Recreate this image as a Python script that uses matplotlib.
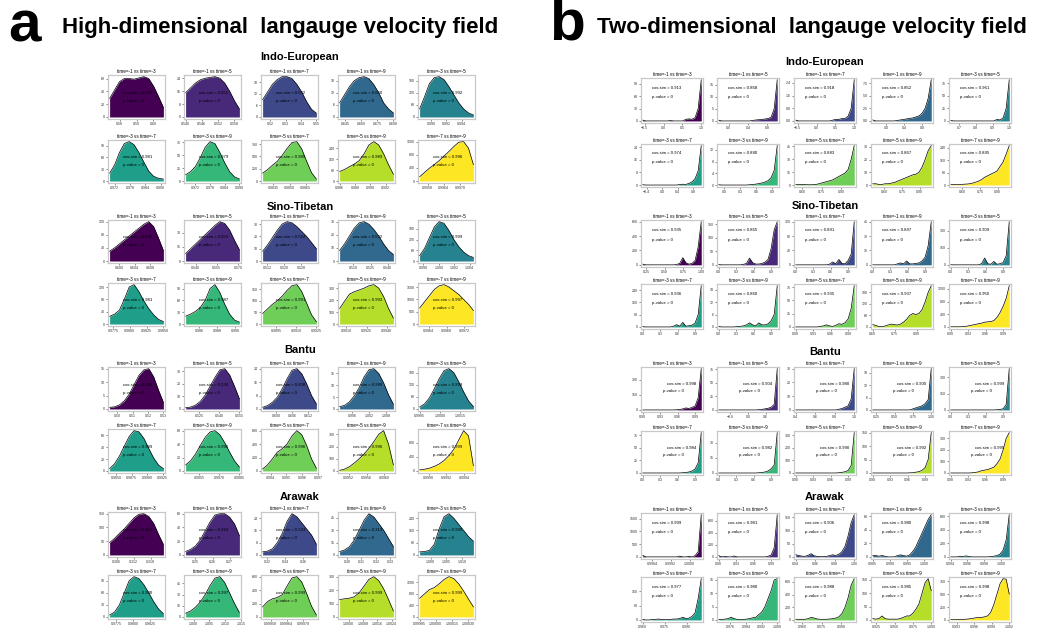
import numpy as np
import matplotlib
matplotlib.use("Agg")
import matplotlib.pyplot as plt
from matplotlib.ticker import MaxNLocator

plt.rcParams['font.family'] = ['Liberation Sans', 'DejaVu Sans']

# panel titles (same order in every block)
pairs = ["time=-1 vs time=-3", "time=-1 vs time=-5", "time=-1 vs time=-7",
         "time=-1 vs time=-9", "time=-3 vs time=-5", "time=-3 vs time=-7",
         "time=-3 vs time=-9", "time=-5 vs time=-7", "time=-5 vs time=-9",
         "time=-7 vs time=-9"]
families = ["Indo-European", "Sino-Tibetan", "Bantu", "Arawak"]

# ---------------- a: high-dimensional field ----------------
ie_hi_xlim = [(0.574, 0.606), (0.540, 0.560), (0.515, 0.550), (0.640, 0.690), (0.9885, 0.9955),
              (0.970, 0.991), (0.968, 0.990), (0.9825, 0.9875), (0.986, 0.993), (0.9955, 0.9975)]
ie_hi_cos = [0.590, 0.551, 0.532, 0.660, 0.992, 0.981, 0.979, 0.985, 0.989, 0.996]
ie_hi_dens = [
    [29, 42, 55, 60, 60, 59, 61, 63, 60, 48, 32, 15],
    [15, 18, 21, 23, 24, 24.5, 25, 24, 21, 16, 10, 5],
    [9, 13, 17, 19.5, 21, 21, 20, 17, 13, 8, 4, 2],
    [7, 11, 15, 18, 19.5, 20, 19, 16, 12, 7, 4, 2],
    [40, 100, 165, 195, 200, 185, 150, 110, 70, 40, 20, 10],
    [20, 40, 72, 95, 100, 92, 72, 48, 25, 12, 7, 5],
    [12, 18, 28, 45, 65, 76, 72, 55, 35, 18, 8, 4],
    [160, 230, 320, 400, 520, 660, 780, 800, 650, 400, 170, 40],
    [70, 85, 105, 125, 150, 200, 265, 290, 265, 200, 120, 50],
    [130, 260, 390, 500, 620, 760, 900, 1050, 1180, 1200, 1000, 500],
]

st_hi_xlim = [(0.5975, 0.6115), (0.533, 0.571), (0.510, 0.535), (0.498, 0.545), (0.9975, 1.0045),
              (0.977, 0.985), (0.9845, 0.9905), (0.9885, 0.9925), (0.9905, 0.9945), (0.9962, 0.9974)]
st_hi_cos = [0.606, 0.553, 0.524, 0.522, 0.999, 0.981, 0.987, 0.991, 0.993, 0.997]
st_hi_dens = [
    [30, 40, 52, 64, 76, 88, 100, 112, 120, 105, 70, 32],
    [8, 13, 18, 23, 28, 33, 38, 42, 40, 33, 22, 12],
    [8, 13, 19, 25, 30, 32, 31, 28, 24, 20, 15, 10],
    [8, 13, 19, 25, 29, 30, 28, 24, 19, 13, 8, 5],
    [30, 70, 130, 190, 220, 210, 170, 120, 80, 50, 30, 20],
    [25, 32, 45, 80, 120, 128, 105, 75, 50, 30, 15, 8],
    [20, 25, 32, 42, 60, 90, 100, 80, 50, 25, 10, 5],
    [45, 65, 85, 100, 120, 145, 165, 170, 140, 90, 40, 10],
    [130, 190, 250, 270, 285, 300, 320, 330, 300, 230, 130, 50],
    [650, 900, 1150, 1400, 1550, 1600, 1500, 1350, 1200, 1000, 800, 550],
]

ba_hi_xlim = [(0.495, 0.530), (0.515, 0.555), (0.595, 0.615), (0.9915, 1.0105), (0.9985, 1.0025),
              (0.9839, 0.9926), (0.9945, 0.9985), (0.9935, 0.9969), (0.9950, 0.9962), (0.9989, 0.9995)]
ba_hi_cos = [0.518, 0.539, 0.608, 0.999, 0.999, 0.989, 0.996, 0.996, 0.996, 0.999]
ba_hi_dens = [
    [0.6, 0.8, 1.5, 3, 5.5, 9, 12.5, 14.5, 15, 12, 7, 2.5],
    [1, 1.5, 3, 6, 11, 18, 25, 31, 32, 27, 18, 8],
    [1, 2, 4, 7, 12, 18, 23, 24, 21, 15, 8, 3],
    [1, 1.5, 3, 5.5, 9, 13.5, 16.5, 17, 15, 11, 6, 2],
    [10, 25, 55, 100, 150, 190, 200, 180, 135, 85, 40, 12],
    [4, 12, 25, 42, 58, 68, 66, 55, 38, 22, 10, 4],
    [9, 15, 25, 38, 50, 58, 60, 54, 42, 28, 15, 6],
    [30, 90, 180, 280, 330, 400, 520, 600, 540, 380, 180, 40],
    [5, 15, 35, 65, 100, 140, 185, 240, 300, 330, 220, 50],
    [30, 50, 80, 130, 200, 300, 440, 620, 880, 1150, 1000, 150],
]

ar_hi_xlim = [(0.3035, 0.3225), (0.2445, 0.2755), (0.315, 0.375), (0.295, 0.332), (0.9965, 1.0135),
              (0.9765, 0.9845), (0.9975, 1.0145), (0.99955, 0.99975), (0.9995, 1.0025), (0.99985, 1.00035)]
ar_hi_cos = [0.313, 0.263, 0.341, 0.313, 0.999, 0.980, 0.997, 0.999, 0.999, 0.999]
ar_hi_dens = [
    [45, 60, 78, 95, 115, 135, 148, 150, 140, 115, 75, 38],
    [5, 8, 13, 22, 35, 48, 58, 60, 60, 55, 45, 28],
    [2, 2.5, 4, 8, 14, 22, 27, 25, 21, 17, 13, 7],
    [4, 6, 10, 18, 30, 42, 50, 46, 38, 30, 20, 10],
    [20, 22, 30, 70, 170, 250, 270, 240, 200, 160, 120, 90],
    [5, 12, 30, 60, 90, 100, 95, 80, 60, 38, 20, 8],
    [5, 8, 13, 20, 30, 42, 52, 54, 46, 32, 18, 6],
    [150, 230, 270, 290, 330, 460, 580, 600, 520, 350, 160, 30],
    [130, 135, 140, 150, 180, 230, 280, 300, 270, 210, 130, 45],
    [650, 800, 950, 1020, 1150, 1300, 1400, 1330, 1150, 900, 620, 350],
]

# ---------------- b: two-dimensional field ----------------
ie_2d_xlim = [(-0.55, 1.0), (-0.2, 1.0), (-0.55, 1.0), (-0.3, 1.0), (0.65, 1.0),
              (-0.5, 1.0), (-0.1, 1.0), (0.55, 1.0), (0.5, 1.0), (0.5, 1.0)]
ie_2d_cos = [0.913, 0.868, 0.918, 0.852, 0.961, 0.974, 0.880, 0.883, 0.867, 0.895]
ie_2d_dens = [
    [2, 0, 0, 0, 0, 0, 0, 0, 0, 1, 0, 0, 0, 0, 4, 5, 4, 8, 30, 100],
    [0.3, 0, 0, 0, 0, 0, 0, 0, 0, 0, 0, 0.2, 0.4, 0.5, 0.6, 0.8, 1, 1.5, 5, 17],
    [0.05, 0, 0, 0, 0, 0, 0, 0, 0, 0, 0, 0, 0.05, 0.1, 0.1, 0.15, 0.15, 0.3, 0.8, 2.6],
    [0.2, 0, 0, 0, 0, 0, 0, 0, 0.1, 0.2, 0.3, 0.4, 0.5, 0.6, 0.8, 1, 1.5, 2.5, 4.5, 8.2],
    [1, 0, 0, 0, 0, 0, 0, 0, 0, 0, 0, 0, 0, 0, 0, 3, 2, 6, 25, 82],
    [0.2, 0, 0, 0, 0, 0, 0, 0, 0, 0, 0, 0, 0.3, 0.5, 0.4, 1, 2, 4, 9, 25],
    [0.1, 0, 0, 0, 0, 0, 0, 0, 0, 0, 0.1, 0.2, 0.3, 0.5, 0.7, 1, 1.5, 2.5, 5, 13.5],
    [0.5, 0.5, 0.8, 0.5, 0.3, 0.3, 0.5, 1, 2, 3, 4, 5, 6, 8, 10, 12, 14, 18, 30, 46],
    [1, 1, 0.5, 0.5, 1, 1, 1.5, 2, 3, 4, 5, 6, 7, 8, 8.5, 10, 14, 20, 27, 31],
    [5, 3, 2, 3, 5, 6, 8, 12, 18, 25, 35, 50, 60, 70, 80, 90, 120, 150, 200, 255],
]

st_2d_xlim = [(0.2, 1.0), (0.0, 1.0), (0.0, 1.0), (0.0, 1.0), (0.0, 1.0),
              (0.0, 1.0), (0.0, 1.0), (0.9, 1.0), (0.6, 1.0), (0.9, 1.0)]
st_2d_cos = [0.935, 0.865, 0.891, 0.897, 0.909, 0.936, 0.860, 0.935, 0.937, 0.950]
st_2d_dens = [
    [10, 0, 0, 0, 0, 0, 0, 0, 0, 0, 0, 5, 20, 100, 30, 10, 20, 60, 250, 600],
    [1, 0, 0, 0, 0, 0, 0, 0, 2, 5, 25, 8, 3, 3, 5, 10, 20, 60, 130, 160],
    [0, 0, 0, 0, 0, 0, 0, 0, 0, 0, 0, 2, 8, 3, 15, 4, 3, 12, 30, 120],
    [0, 0, 0, 0, 0, 0, 0, 0, 1, 2, 1, 4, 1, 1, 1.5, 2, 4, 8, 20, 45],
    [1, 0, 0, 0, 0, 0, 0, 0, 0, 0, 10, 60, 10, 5, 30, 5, 10, 20, 80, 380],
    [2, 0, 0, 0, 0, 0, 0, 0, 0, 0, 5, 15, 5, 30, 5, 8, 12, 25, 80, 270],
    [0.2, 0, 0, 0, 0, 0, 0.2, 0.3, 0.5, 1, 2, 1, 0.5, 2, 1, 1, 1.5, 3, 6, 20],
    [0, 0, 0, 0, 0, 0, 0, 0, 1, 2, 4, 2, 1, 3, 6, 5, 8, 15, 35, 78],
    [12, 8, 2, 1, 5, 10, 15, 12, 10, 15, 25, 40, 60, 70, 65, 70, 90, 130, 180, 215],
    [5, 5, 5, 5, 10, 20, 40, 60, 80, 100, 120, 150, 160, 170, 200, 300, 450, 650, 900, 1300],
]

ba_2d_xlim = [(0.90, 1.0), (-1.0, 1.0), (0.4, 1.0), (0.2, 1.0), (0.0, 1.0),
              (0.0, 1.0), (0.0, 1.0), (0.9, 1.0), (0.9, 1.0), (0.9, 1.0)]
ba_2d_cos = [0.998, 0.904, 0.980, 0.90, 0.9989, 0.984, 0.982, 0.990, 0.992, 0.995]
ba_2d_dens = [
    [0, 0, 0, 0, 0, 0, 0, 0, 0, 0, 0, 2, 5, 10, 20, 15, 25, 40, 120, 410],
    [0, 0, 0, 0, 0, 0, 0, 0, 0, 0, 0, 0, 0, 0.5, 1, 2, 3, 5, 10, 76],
    [0, 0, 0, 0, 0, 0, 0, 0, 0, 0, 0, 0, 0, 0, 0.5, 1, 2, 3, 8, 30],
    [0, 0, 0, 0, 0, 0, 0, 0, 0, 0, 0, 0, 0, 0.5, 1, 1.5, 2, 3, 5, 20],
    [0, 0, 0, 0, 0, 0, 0, 0, 0, 0, 0, 0, 0, 0, 0, 2, 5, 10, 50, 380],
    [0, 0, 0, 0, 0, 0, 0, 0, 0, 0, 0, 0, 0, 0.5, 1, 2, 4, 8, 20, 80],
    [0, 0, 0, 0, 0, 0, 0, 0, 0, 0, 0, 0, 0, 0.2, 0.5, 1, 2, 4, 8, 40],
    [0, 0, 0, 0, 0, 0, 0, 0, 0, 0, 0, 0, 0, 0, 2, 5, 10, 20, 60, 320],
    [0, 0, 0, 0, 0, 0, 0, 0, 0, 0, 0, 0, 0.5, 1, 3, 5, 10, 20, 50, 150],
    [0, 0, 0, 0, 0, 0, 0, 2, 5, 10, 20, 25, 30, 40, 50, 80, 120, 200, 300, 350],
]

ar_2d_xlim = [(0.9980, 1.0005), (0.9, 1.0), (0.94, 1.0), (0.985, 1.002), (0.994, 1.001),
              (0.96, 1.0), (0.97, 1.0), (0.955, 1.0), (0.92, 1.0), (0.992, 1.002)]
ar_2d_cos = [0.999, 0.981, 0.906, 0.98, 0.998, 0.977, 0.980, 0.988, 0.985, 0.998]
ar_2d_dens = [
    [60, 0, 0, 0, 0, 0, 0, 0, 0, 0, 0, 0, 30, 0, 0, 20, 0, 50, 200, 1650],
    [20, 0, 10, 0, 0, 15, 0, 0, 0, 0, 0, 0, 0, 0, 0, 0, 10, 30, 150, 700],
    [8, 5, 3, 2, 6, 12, 4, 2, 1, 1, 2, 5, 8, 5, 10, 20, 40, 80, 130, 160],
    [2, 2, 1, 2, 1, 0, 0, 0, 2, 3, 2, 1, 3, 8, 15, 25, 35, 45, 55, 62],
    [0, 0, 0, 10, 5, 15, 5, 0, 0, 0, 0, 0, 0, 5, 10, 20, 40, 100, 250, 620],
    [3, 0, 0, 2, 3, 5, 3, 2, 2, 3, 5, 5, 8, 15, 8, 10, 20, 40, 120, 230],
    [0.2, 0.2, 0.3, 0.5, 1, 0.5, 0.2, 0.2, 0.2, 0.3, 0.5, 0.8, 1, 2, 3, 5, 8, 11, 15, 15.5],
    [10, 10, 10, 10, 20, 40, 30, 15, 10, 10, 10, 15, 20, 30, 50, 100, 200, 350, 550, 650],
    [5, 3, 5, 15, 5, 3, 3, 3, 3, 5, 10, 15, 15, 25, 40, 60, 100, 140, 155, 110],
    [5, 5, 5, 10, 10, 15, 20, 30, 40, 50, 50, 60, 80, 150, 300, 500, 700, 800, 790, 500],
]

W, H = 1046, 631
fig = plt.figure(figsize=(W / 100, H / 100), dpi=100)
colors = plt.cm.viridis(np.linspace(0, 1, 10))


def box(x, top, w, bottom):
    return [x / W, 1 - bottom / H, w / W, (bottom - top) / H]


def panel(rect, title, xlim, dens, color, cos, pos):
    ax = fig.add_axes(rect)
    x = np.linspace(xlim[0], xlim[1], len(dens))
    ax.fill_between(x, dens, 0, color=color, lw=0)
    ax.plot(x, dens, color='black', lw=0.5)
    span = xlim[1] - xlim[0]
    ax.set_xlim(xlim[0] - 0.03 * span, xlim[1] + 0.03 * span)
    top = max(dens)
    ax.set_ylim(-0.05 * top, 1.04 * top)
    ax.xaxis.set_major_locator(MaxNLocator(4))
    ax.yaxis.set_major_locator(MaxNLocator(4))
    ax.ticklabel_format(useOffset=False, style='plain')
    ax.tick_params(labelsize=2.6, length=1.5, width=0.4, pad=1, colors='#333333')
    for s in ax.spines.values():
        s.set_color('#c8c8c8')
        s.set_linewidth(0.9)
    ax.set_title(title, fontsize=3.3, pad=1.5)
    (cx, cy), (px, py), ha = pos
    ax.text(cx, cy, f"cos.sim = {cos:.3f}", transform=ax.transAxes,
            fontsize=3.1, ha=ha, va='center')
    ax.text(px, py, "p-value = 0", transform=ax.transAxes,
            fontsize=3.1, ha=ha, va='center')


hi_sets = [(ie_hi_xlim, ie_hi_dens, ie_hi_cos), (st_hi_xlim, st_hi_dens, st_hi_cos),
           (ba_hi_xlim, ba_hi_dens, ba_hi_cos), (ar_hi_xlim, ar_hi_dens, ar_hi_cos)]
two_sets = [(ie_2d_xlim, ie_2d_dens, ie_2d_cos), (st_2d_xlim, st_2d_dens, st_2d_cos),
            (ba_2d_xlim, ba_2d_dens, ba_2d_cos), (ar_2d_xlim, ar_2d_dens, ar_2d_cos)]

# pixel layout
left_cols = [108, 184, 261, 338, 418]
right_cols = [641, 717, 794, 871, 949]
left_rows = [[(75, 119), (140, 183)], [(220, 263), (283, 326)],
             [(367, 411), (429, 473)], [(512, 557), (575, 619)]]
right_rows = [[(78, 123), (144, 187)], [(220, 267), (284, 329)],
              [(367, 412), (431, 475)], [(513, 559), (577, 622)]]
left_heads = [57, 207, 350, 497]
right_heads = [62, 206, 352, 497]

for f in range(4):
    xl, dl, cl = hi_sets[f]
    xr, dr, cr = two_sets[f]
    fig.text(300 / W, 1 - left_heads[f] / H, families[f], fontsize=8,
             fontweight='bold', ha='center', va='center')
    fig.text(825 / W, 1 - right_heads[f] / H, families[f], fontsize=8,
             fontweight='bold', ha='center', va='center')
    rpos = ((0.42, 0.62), (0.36, 0.46), 'left') if f == 2 else ((0.17, 0.78), (0.17, 0.58), 'left')
    for i in range(10):
        r, c = divmod(i, 5)
        t, b = left_rows[f][r]
        panel(box(left_cols[c], t, 57, b), pairs[i], xl[i], dl[i], colors[i], cl[i],
              ((0.52, 0.6), (0.45, 0.42), 'center'))
        t, b = right_rows[f][r]
        panel(box(right_cols[c], t, 62, b), pairs[i], xr[i], dr[i], colors[i], cr[i], rpos)

# headers
fig.text(8 / W, 1 - 27 / H, "a", fontsize=42, fontweight='bold', va='center')
fig.text(62 / W, 1 - 28 / H, "High-dimensional  langauge velocity field",
         fontsize=16, fontweight='bold', va='center')
fig.text(549 / W, 1 - 25 / H, "b", fontsize=42, fontweight='bold', va='center')
fig.text(597 / W, 1 - 28 / H, "Two-dimensional  langauge velocity field",
         fontsize=16, fontweight='bold', va='center')

fig.savefig("out.png", dpi=100)
